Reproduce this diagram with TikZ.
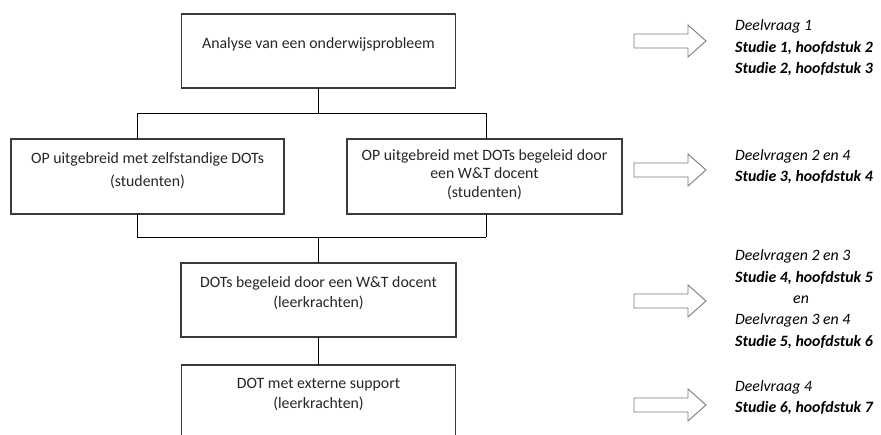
\documentclass[tikz,border=0pt]{standalone}
\usepackage{fontspec}
\setmainfont{Carlito}
\definecolor{boxline}{HTML}{3A3A3A}
\definecolor{boxtext}{HTML}{262626}
\definecolor{arrowline}{HTML}{7A7A7A}
\newcommand\blockarrow[1]{%
  \draw[bigarrow] (#1) ++(0,-7) -- ++(54,0) -- ++(0,-9) -- ++(18,16)
    -- ++(-18,16) -- ++(0,-9) -- ++(-54,0) -- cycle;}
\begin{document}
\begin{tikzpicture}[x=1pt,y=-1pt,
  box/.style={draw=boxline, line width=1.1pt, rectangle, inner sep=0pt, outer sep=0pt},
  boxtext/.style={anchor=north, inner sep=0pt, align=center, text=boxtext,
    font=\fontsize{15.8}{#1}\selectfont},
  boxtext/.default=20,
  link/.style={draw=black, line width=0.9pt},
  bigarrow/.style={draw=arrowline, fill=white, line width=0.9pt, line join=miter},
  qtext/.style={anchor=base west, inner sep=0pt, text=black,
    font=\fontsize{15.8}{20}\selectfont\itshape},
  stext/.style={anchor=base west, inner sep=0pt, text=black,
    font=\fontsize{15.8}{20}\selectfont\bfseries\itshape}]
\useasboundingbox (0,0) rectangle (881,435);
\clip (0,0) rectangle (881,435);
\fill[white] (0,0) rectangle (881,435);

% boxes of the flow
\node[box, minimum width=274pt, minimum height=74pt] (analyse) at (318.5,51) {};
\node[box, minimum width=273pt, minimum height=75pt] (opzelf) at (147.5,176.5) {};
\node[box, minimum width=275pt, minimum height=75pt] (opbeg) at (484.5,176.5) {};
\node[box, minimum width=275pt, minimum height=74pt] (dotsbeg) at (318.5,300) {};
\node[box, minimum width=274pt, minimum height=95pt] (dotext) at (318.5,412.5) {};

% box texts
\node[boxtext] (analyseT) at (318.5,37) {Analyse van een onderwijsprobleem};
\node[boxtext=23] (opzelfT) at (147.5,152) {OP uitgebreid met zelfstandige DOTs\\(studenten)};
\node[boxtext=18.5] (opbegT) at (484.5,149) {OP uitgebreid met DOTs begeleid door\\een W\&T docent\\(studenten)};
\node[boxtext] (dotsbegT) at (318.5,276) {DOTs begeleid door een W\&T docent\\(leerkrachten)};
\node[boxtext] (dotextT) at (318.5,378) {DOT met externe support\\(leerkrachten)};

% connectors
\coordinate (j1) at (318.5,113);
\coordinate (j1l) at (137,113);
\coordinate (j1r) at (486,113);
\coordinate (j2) at (318.5,237);
\coordinate (j2l) at (137,237);
\coordinate (j2r) at (486,237);
\draw[link] (analyse.south) -- (j1);
\draw[link] (j1l) -- (j1r);
\draw[link] (j1l) -- (j1l |- opzelf.north);
\draw[link] (j1r) -- (j1r |- opbeg.north);
\draw[link] (j2l |- opzelf.south) -- (j2l);
\draw[link] (j2r |- opbeg.south) -- (j2r);
\draw[link] (j2l) -- (j2r);
\draw[link] (j2) -- (dotsbeg.north);
\draw[link] (dotsbeg.south) -- (dotext.north);

% block arrows
\coordinate (a1) at (634,41);
\coordinate (a2) at (634,170);
\coordinate (a3) at (634,301);
\coordinate (a4) at (634,405);
\blockarrow{a1}
\blockarrow{a2}
\blockarrow{a3}
\blockarrow{a4}

% research questions and studies
\node[qtext] (q1) at (735,31) {Deelvraag 1};
\node[stext] (s1) at (735,53) {Studie 1, hoofdstuk 2};
\node[stext] (s2) at (735,74) {Studie 2, hoofdstuk 3};
\node[qtext] (q2) at (735,161) {Deelvragen 2 en 4};
\node[stext] (s3) at (735,182) {Studie 3, hoofdstuk 4};
\node[qtext] (q3) at (735,261) {Deelvragen 2 en 3};
\node[stext] (s4) at (735,283) {Studie 4, hoofdstuk 5};
\node[qtext] (en) at (793,304) {en};
\node[qtext] (q4) at (735,325) {Deelvragen 3 en 4};
\node[stext] (s5) at (735,347) {Studie 5, hoofdstuk 6};
\node[qtext] (q5) at (735,392) {Deelvraag 4};
\node[stext] (s6) at (735,413) {Studie 6, hoofdstuk 7};
\end{tikzpicture}
\end{document}
